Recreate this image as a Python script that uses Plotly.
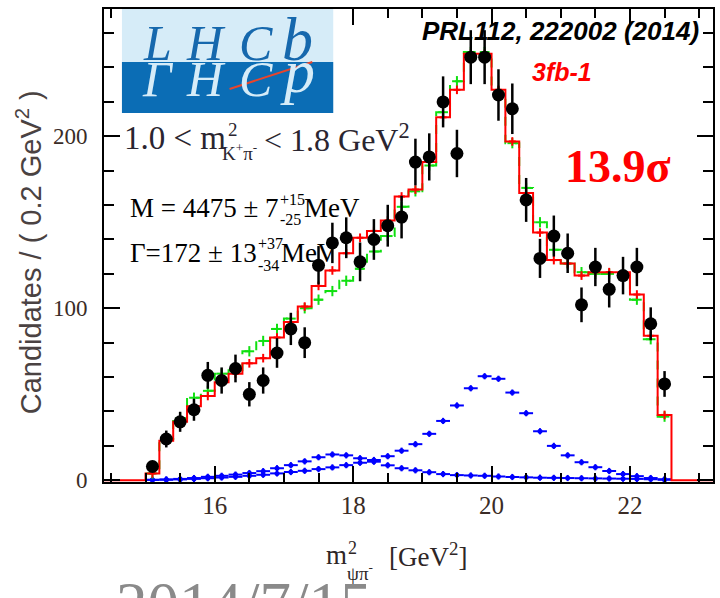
import numpy as np
import plotly.graph_objects as go

# ---- binned m^2(psi' pi-) spectrum, 0.2 GeV^2 bins ----
bin_centers = [15.1, 15.3, 15.5, 15.7, 15.9, 16.1, 16.3, 16.5, 16.7, 16.9,
               17.1, 17.3, 17.5, 17.7, 17.9, 18.1, 18.3, 18.5, 18.7, 18.9,
               19.1, 19.3, 19.5, 19.7, 19.9, 20.1, 20.3, 20.5, 20.7, 20.9,
               21.1, 21.3, 21.5, 21.7, 21.9, 22.1, 22.3, 22.5]

data_counts = [8, 24, 34, 41, 61, 58, 65, 50, 58, 74,
               88, 80, 125, 138, 141, 127, 140, 148, 153, 185,
               188, 220, 190, 246, 246, 224, 216, 163, 129, 142,
               132, 102, 124, 111, 119, 124, 91, 56]

# full amplitude fit (with Z states)
fit_total = [4, 23, 34, 43, 49, 57, 62, 68, 71, 83,
             92, 101, 113, 122, 132, 141, 145, 151, 165, 169,
             185, 211, 227, 248, 248, 227, 197, 167, 144, 128,
             126, 119, 121, 121, 121, 108, 84, 38]

# alternative fit (dashed green)
fit_alt = [4, 24, 36, 48, 52, 62, 64, 75, 81, 88,
           94, 100, 105, 110, 116, 123, 133, 142, 159, 168,
           183, 214, 232, 249, 249, 226, 196, 170, 150, 134,
           126, 121, 120, 120, 120, 105, 82, 37]

# Z(4430)- component
z4430 = [0.2, 0.3, 0.5, 0.8, 1.2, 1.6, 2.0, 2.6, 3.2, 4.0,
         4.8, 5.5, 6.5, 7.5, 8.8, 10.2, 11.8, 14.0, 17.2, 21.0,
         27.0, 34.5, 43.5, 53.5, 60.5, 59.0, 51.0, 39.0, 28.5, 20.0,
         14.5, 10.5, 7.6, 5.4, 3.6, 2.4, 1.3, 0.6]

# second Z- component
z_low = [0.3, 0.5, 0.8, 1.3, 2.0, 2.6, 3.3, 4.2, 5.3, 7.0,
         8.8, 11.0, 13.4, 15.0, 14.5, 12.8, 10.8, 8.7, 7.0, 5.8,
         4.7, 3.6, 3.0, 2.8, 2.6, 2.2, 1.9, 1.7, 1.5, 1.4,
         1.3, 1.2, 1.1, 1.0, 0.9, 0.8, 0.6, 0.3]

bin_width = 0.2
x_range = [14.4, 23.2]
y_range = [-1, 274]

centers = np.array(bin_centers)
edges_lo = list(centers - bin_width / 2)
last_edge = float(centers[-1] + bin_width / 2)
half_bin = [bin_width / 2] * len(bin_centers)

fig = go.Figure()

# fit components (blue)
for comp in (z_low, z4430):
    fig.add_trace(go.Scatter(
        x=bin_centers, y=comp, mode="markers",
        marker=dict(color="#0000ff", size=5),
        error_x=dict(type="data", array=half_bin, width=0, thickness=2, color="#0000ff"),
        error_y=dict(type="constant", value=1.8, width=0, thickness=2, color="#0000ff"),
        hoverinfo="skip"))

# alternative fit: dashed green histogram with crosses
fig.add_trace(go.Scatter(
    x=edges_lo + [last_edge], y=fit_alt + [fit_alt[-1]],
    mode="lines", line=dict(color="#10e010", width=2, dash="dash", shape="hv"),
    hoverinfo="skip"))
fig.add_trace(go.Scatter(
    x=bin_centers, y=fit_alt, mode="markers",
    marker=dict(color="#10e010", size=1),
    error_x=dict(type="constant", value=0.07, width=0, thickness=2, color="#10e010"),
    error_y=dict(type="constant", value=3, width=0, thickness=2, color="#10e010"),
    hoverinfo="skip"))

# full fit: solid red histogram
fig.add_trace(go.Scatter(
    x=[x_range[0]] + edges_lo + [last_edge, x_range[1]],
    y=[0] + fit_total + [0, 0],
    mode="lines", line=dict(color="#ff0000", width=2, shape="hv"),
    hoverinfo="skip"))
fig.add_trace(go.Scatter(
    x=bin_centers, y=fit_total, mode="markers",
    marker=dict(color="#ff0000", size=1),
    error_x=dict(type="constant", value=0.05, width=0, thickness=2, color="#ff0000"),
    error_y=dict(type="constant", value=2.5, width=0, thickness=2, color="#ff0000"),
    hoverinfo="skip"))

# data points
fig.add_trace(go.Scatter(
    x=bin_centers, y=data_counts, mode="markers",
    marker=dict(color="black", size=13),
    error_y=dict(type="data", array=list(np.sqrt(data_counts)), width=0,
                 thickness=2.5, color="black"),
    hoverinfo="skip"))

# ---- page geometry helpers (pixel -> paper) ----
L, R, T, B = 104, 715, 9, 482


def X(p):
    return (p - L) / (R - L)


def Y(p):
    return (B - p) / (B - T)


SERIF = "Liberation Serif"
SANS = "Liberation Sans"
annotations = []


def txt(text, x, y, size, family=SERIF, color="black", xanchor="left",
        yanchor="middle", angle=0, weight="normal", style="normal"):
    annotations.append(dict(
        text=text, x=X(x), y=Y(y), xref="paper", yref="paper",
        xanchor=xanchor, yanchor=yanchor, showarrow=False, textangle=angle,
        font=dict(family=family, size=size, color=color, weight=weight, style=style)))


# selection / fit result labels
lab = "#2a2530"
txt("1.0 &lt; m", 122, 138, 33, color=lab)
txt("2", 226, 129, 19, color=lab)
txt("K<sup>+</sup>π<sup>-</sup>", 220, 152, 19, color=lab)
txt("&lt; 1.8 GeV<sup>2</sup>", 263, 138, 32, color=lab)

txt("M = 4475 ± 7", 128, 208, 27)
txt("+15", 279, 199, 16)
txt("-25", 279, 219, 16)
txt("MeV", 303, 208, 27)

txt("Γ=172 ± 13", 128, 253, 27)
txt("+37", 256, 243, 16)
txt("-34", 256, 265, 16)
txt("MeV", 280, 253, 27)

txt("PRL112, 222002 (2014)", 703, 31, 26, family=SANS, xanchor="right",
    weight="bold", style="italic")
txt("3fb-1", 564, 72, 25, family=SANS, color="#ff0000", xanchor="center",
    weight="bold", style="italic")
txt("13.9σ", 620, 166, 46, color="#ff0000", xanchor="center", weight="bold")

# axis titles
txt("Candidates / ( 0.2 GeV<sup>2</sup> )", 29, 252, 29, family=SANS,
    color="#4a4242", xanchor="center", angle=-90)
axc = "#2e2626"
txt("m", 325, 555, 27, color=axc)
txt("2", 347, 548, 18, color=axc)
txt("ψπ<sup>-</sup>", 346, 572, 19, color=axc)
txt("[GeV<sup>2</sup>]", 388, 555, 27, color=axc)

# date stamp along the lower edge
txt("2014/7/15", 244, 605, 63, color="#8a8a8a", xanchor="center")

# LHCb logo
logo_light, logo_dark = "#d6ecf8", "#0b6db5"
shapes = [
    dict(type="rect", xref="paper", yref="paper", x0=X(122), x1=X(334),
         y0=Y(62), y1=Y(9), fillcolor=logo_light, line=dict(width=0)),
    dict(type="rect", xref="paper", yref="paper", x0=X(122), x1=X(334),
         y0=Y(113), y1=Y(62), fillcolor=logo_dark, line=dict(width=0)),
]
for ch, cx in (("L", 158), ("H", 206), ("C", 257)):
    txt(ch, cx, 43, 50, color="#1668ad", xanchor="center", style="italic")
txt("b", 298, 39, 62, color="#1668ad", xanchor="center", style="italic")
for ch, cx in (("Γ", 158), ("H", 206), ("C", 257)):
    txt(ch, cx, 79, 50, color=logo_light, xanchor="center", style="italic")
txt("p", 298, 71, 62, color=logo_light, xanchor="center", style="italic")
shapes.append(dict(type="line", xref="paper", yref="paper", x0=X(230), y0=Y(89),
                   x1=X(313), y1=Y(62), line=dict(color="#e8452c", width=2)))

tick_font = dict(family=SERIF, color="#3a2c26")
fig.update_layout(
    width=720, height=598,
    margin=dict(l=L, r=720 - R, t=T, b=598 - B, pad=0),
    plot_bgcolor="white", paper_bgcolor="white",
    showlegend=False,
    annotations=annotations, shapes=shapes,
    xaxis=dict(range=x_range, tickmode="linear", tick0=16, dtick=2,
               ticks="inside", ticklen=16, tickwidth=2, tickcolor="black",
               showline=True, linewidth=2, linecolor="black", mirror="allticks",
               showgrid=False, zeroline=False, ticklabelstandoff=0,
               tickfont=dict(size=25, **tick_font),
               minor=dict(tick0=14.5, dtick=0.5, ticks="inside",
                          ticklen=9, tickwidth=2, tickcolor="black", showgrid=False)),
    yaxis=dict(range=y_range, tickmode="linear", tick0=0, dtick=100,
               ticks="inside", ticklen=16, tickwidth=2, tickcolor="black",
               showline=True, linewidth=2, linecolor="black", mirror="allticks",
               showgrid=False, zeroline=False, ticklabelstandoff=10,
               tickfont=dict(size=23, **tick_font),
               minor=dict(tick0=0, dtick=20, ticks="inside",
                          ticklen=10, tickwidth=2, tickcolor="black", showgrid=False)),
)

fig.write_html("out.html")
